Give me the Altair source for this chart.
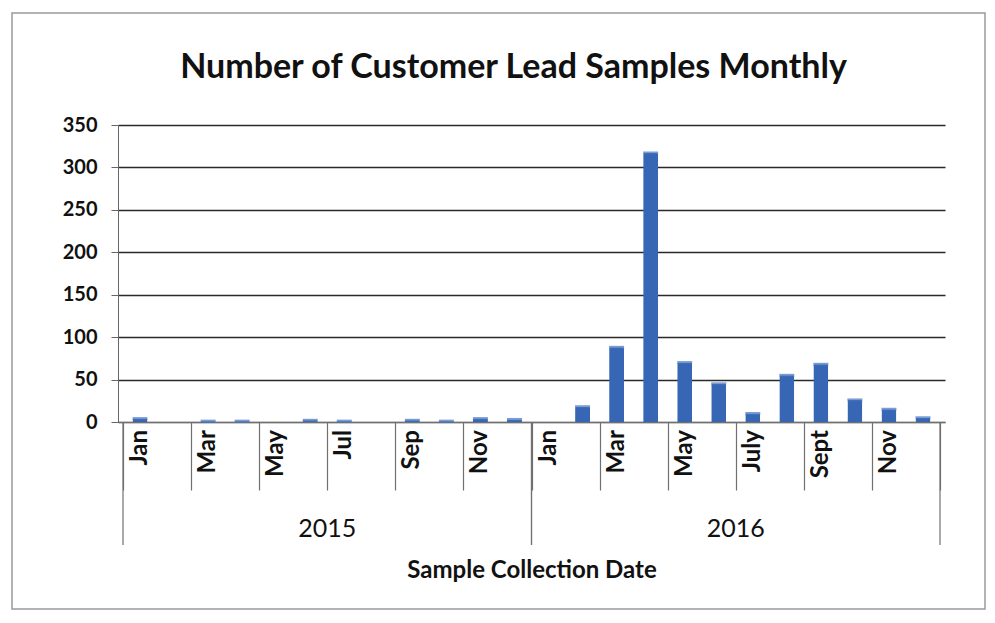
import altair as alt
import pandas as pd

# ---- data ----
title_text = "Number of Customer Lead Samples Monthly"
years = ["2015"] * 12 + ["2016"] * 12
months = ["Jan", "Feb", "Mar", "Apr", "May", "Jun", "Jul", "Aug", "Sep", "Oct", "Nov", "Dec",
          "Jan", "Feb", "Mar", "Apr", "May", "June", "July", "Aug", "Sept", "Oct", "Nov", "Dec"]
samples = [4, 0, 1, 1, 0, 2, 1, 0, 2, 1, 4, 3,
           0, 18, 88, 317, 70, 45, 10, 55, 68, 26, 15, 5]
y_ticks = [0, 50, 100, 150, 200, 250, 300, 350]

df = pd.DataFrame({"idx": list(range(len(samples))), "month": months,
                   "year": years, "samples": samples})

W, H = 827, 297
FONT = "Lato"
BAR = "#3767B4"

xscale = alt.Scale(domain=[0, len(samples)], nice=False, zero=False)
yscale = alt.Scale(domain=[0, 350], nice=False)

base = alt.Chart(df).transform_calculate(center="datum.idx + 0.5")

bars = base.mark_bar(size=15, color=BAR, cornerRadiusEnd=2).encode(
    x=alt.X("center:Q", scale=xscale,
            axis=alt.Axis(values=list(range(len(samples) + 1)), labels=False,
                          tickSize=68, tickColor="#707070", tickWidth=1.2,
                          domain=True, domainColor="#707070", grid=False,
                          title="Sample Collection Date", titleFont=FONT,
                          titleFontSize=24, titleFontWeight="bold",
                          titleColor="#111", titlePadding=68)),
    y=alt.Y("samples:Q", scale=yscale,
            axis=alt.Axis(values=y_ticks, grid=True, gridColor="#2a2a2a",
                          gridWidth=1.4, domain=True, domainColor="#666",
                          tickSize=7, tickColor="#666", labelFont=FONT,
                          labelFontSize=20, labelFontWeight="bold",
                          labelColor="#111", labelPadding=14, title=None)),
)

caps = base.transform_filter("datum.samples > 0").mark_tick(
    orient="horizontal", size=15, thickness=3, color="#4272BE"
).encode(
    x=alt.X("center:Q", scale=xscale),
    y=alt.Y("samples:Q", scale=yscale),
)

month_text = base.transform_filter("datum.idx % 2 == 0").mark_text(
    angle=270, align="right", baseline="middle", font=FONT, fontSize=24,
    fontWeight="bold", color="#111"
).encode(
    x=alt.X("center:Q", scale=xscale),
    y=alt.value(H + 8),
    text="month:N",
)

year_base = alt.Chart(df).transform_aggregate(
    start="min(idx)", last="max(idx)", groupby=["year"]
).transform_calculate(end="datum.last + 1", mid="(datum.start + datum.last + 1) / 2")

year_rule_start = year_base.mark_rule(color="#707070", strokeWidth=1.2).encode(
    x=alt.X("start:Q", scale=xscale), y=alt.value(H), y2=alt.value(H + 123))
year_rule_end = year_base.mark_rule(color="#707070", strokeWidth=1.2).encode(
    x=alt.X("end:Q", scale=xscale), y=alt.value(H), y2=alt.value(H + 123))
year_text = year_base.mark_text(font=FONT, fontSize=25, color="#111",
                                baseline="middle").encode(
    x=alt.X("mid:Q", scale=xscale), y=alt.value(H + 107), text="year:N")

one = pd.DataFrame({"label": [title_text]})
title = alt.Chart(one).mark_text(font=FONT, fontSize=34, fontWeight="bold",
                                 color="#111", baseline="alphabetic").encode(
    x=alt.value(W / 2 - 18), y=alt.value(-47), text="label:N")

border = alt.Chart(one).mark_rect(
    fill=None, stroke="#9a9a9a", strokeWidth=1.5
).encode(x=alt.value(-106), x2=alt.value(W + 40), y=alt.value(-112), y2=alt.value(H + 187))

chart = alt.layer(
    border, title, bars, caps, month_text, year_rule_start, year_rule_end, year_text
).properties(
    width=W, height=H,
    autosize=alt.AutoSizeParams(type="none"),
    padding={"left": 110, "top": 117, "right": 42, "bottom": 193},
).configure_view(stroke=None)

chart.save("out.html", embed_options={"renderer": "svg", "actions": False})
